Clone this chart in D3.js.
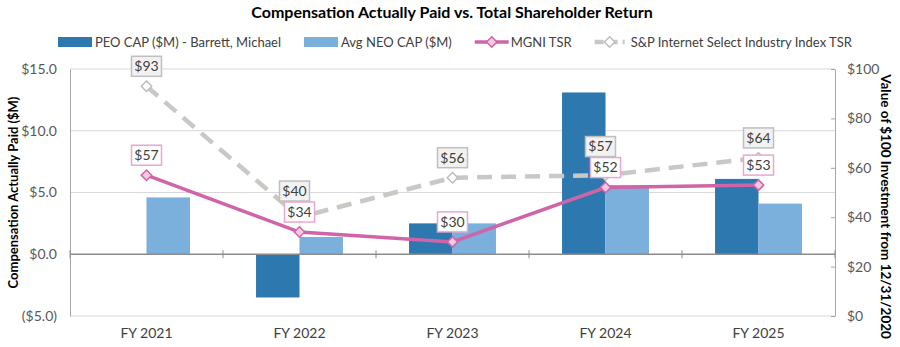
<!DOCTYPE html>
<html>
<head>
<meta charset="utf-8">
<script src="https://cdn.jsdelivr.net/npm/d3@7"></script>
<style>
  body { margin: 0; background: #fff; }
  text { font-family: Lato, "Open Sans", sans-serif; }
</style>
</head>
<body>
<div id="viz-container"></div>
<script>
const years = ['FY 2021', 'FY 2022', 'FY 2023', 'FY 2024', 'FY 2025'];
const peoCap = [0, -3.5, 2.5, 13.1, 6.1];
const neoCap = [4.6, 1.4, 2.5, 5.6, 4.1];
const mgniTsr = [57, 34, 30, 52, 53];
const spTsr = [93, 40, 56, 57, 64];
const leftTicks = [-5, 0, 5, 10, 15];
const rightTicks = [0, 20, 40, 60, 80, 100];
const seriesNames = ['PEO CAP ($M) - Barrett, Michael', 'Avg NEO CAP ($M)', 'MGNI TSR', 'S&P Internet Select Industry Index TSR'];

const width = 900, height = 347,
      margin = {top: 69, bottom: 31, left: 70, right: 65};

const colors = {peo: '#2e78b0', neo: '#7ab0db', mgni: '#cf65a8', mgniFill: '#f3c9e2', sp: '#c8c8c5', spStroke: '#bdbdbd'};

const svg = d3.select('#viz-container')
  .append('svg')
    .attr('width', width)
    .attr('height', height);

const x = d3.scaleBand()
  .domain(years)
  .range([margin.left, width - margin.right]);

const x1 = d3.scaleBand()
  .domain(['peo', 'neo'])
  .range([0, x.bandwidth()])
  .paddingOuter(0.76);

const yL = d3.scaleLinear().domain([-5, 15]).range([height - margin.bottom, margin.top]);
const yR = d3.scaleLinear().domain([0, 100]).range([height - margin.bottom, margin.top]);

const fmtLeft = v => v < 0 ? '($' + Math.abs(v).toFixed(1) + ')' : '$' + v.toFixed(1);

// gridlines
svg.append('g')
  .selectAll('line')
  .data(leftTicks.filter(d => d !== 0))
  .enter().append('line')
    .attr('x1', margin.left).attr('x2', width - margin.right)
    .attr('y1', d => yL(d)).attr('y2', d => yL(d))
    .attr('stroke', '#d9d9d9').attr('stroke-width', 1);

// left axis
const gL = svg.append('g')
  .attr('transform', 'translate(' + margin.left + ',0)')
  .call(d3.axisLeft(yL).tickValues(leftTicks).tickFormat(fmtLeft).tickSize(0).tickPadding(13));
gL.select('.domain').attr('stroke', '#a6a6a6');
gL.selectAll('text').attr('font-size', 14).attr('fill', '#595959');

// right axis
const gR = svg.append('g')
  .attr('transform', 'translate(' + (width - margin.right) + ',0)')
  .call(d3.axisRight(yR).tickValues(rightTicks).tickFormat(d => '$' + d).tickSizeInner(-4).tickSizeOuter(0).tickPadding(12));
gR.select('.domain').attr('stroke', '#a6a6a6');
gR.selectAll('line').attr('stroke', '#a6a6a6');
gR.selectAll('text').attr('font-size', 14).attr('fill', '#595959');

// bars
const barData = years.map((y, i) => [{s: 'peo', y, v: peoCap[i]}, {s: 'neo', y, v: neoCap[i]}]).flat();
svg.append('g')
  .selectAll('rect')
  .data(barData)
  .enter().append('rect')
    .attr('x', d => x(d.y) + x1(d.s))
    .attr('width', x1.bandwidth())
    .attr('y', d => yL(Math.max(0, d.v)))
    .attr('height', d => Math.abs(yL(d.v) - yL(0)))
    .attr('fill', d => colors[d.s]);

// category axis at zero
const gX = svg.append('g')
  .attr('transform', 'translate(0,' + yL(0) + ')');
gX.append('line')
  .attr('x1', margin.left).attr('x2', width - margin.right)
  .attr('stroke', '#8c8c8c').attr('stroke-width', 1.5);
gX.selectAll('.tk')
  .data(d3.range(years.length + 1))
  .enter().append('line')
    .attr('x1', i => margin.left + i * x.step()).attr('x2', i => margin.left + i * x.step())
    .attr('y1', -4).attr('y2', 4)
    .attr('stroke', '#8c8c8c');
svg.append('g')
  .selectAll('text')
  .data(years)
  .enter().append('text')
    .attr('x', d => x(d) + x.bandwidth() / 2)
    .attr('y', height - 9)
    .attr('text-anchor', 'middle')
    .attr('font-size', 14)
    .attr('fill', '#404040')
    .text(d => d);

// lines
const cx = i => x(years[i]) + x.bandwidth() / 2;
const line = d3.line().x((d, i) => cx(i)).y(d => yR(d));

svg.append('path')
  .datum(spTsr)
  .attr('d', line)
  .attr('fill', 'none')
  .attr('stroke', colors.sp)
  .attr('stroke-width', 4.5)
  .attr('stroke-dasharray', '15,9');

svg.append('path')
  .datum(mgniTsr)
  .attr('d', line)
  .attr('fill', 'none')
  .attr('stroke', colors.mgni)
  .attr('stroke-width', 3.5);

const diamond = d3.symbol().type(d3.symbolDiamond2).size(70);

svg.append('g').selectAll('path')
  .data(spTsr)
  .enter().append('path')
    .attr('d', diamond)
    .attr('transform', (d, i) => 'translate(' + cx(i) + ',' + yR(d) + ')')
    .attr('fill', '#fff').attr('stroke', colors.spStroke).attr('stroke-width', 1.5);

svg.append('g').selectAll('path')
  .data(mgniTsr)
  .enter().append('path')
    .attr('d', diamond)
    .attr('transform', (d, i) => 'translate(' + cx(i) + ',' + yR(d) + ')')
    .attr('fill', colors.mgniFill).attr('stroke', colors.mgni).attr('stroke-width', 1.5);

// data labels: MGNI above point, S&P above point, pushed up if they collide
const boxH = 20;
const labels = [];
mgniTsr.forEach((v, i) => labels.push({v, x: cx(i), y: yR(v) - 20, fill: '#fff', stroke: '#e9a8cf'}));
spTsr.forEach((v, i) => {
  let ly = yR(v) - 20, lx = cx(i);
  const m = yR(mgniTsr[i]) - 20;
  if (Math.abs(ly - m) < boxH + 2) { ly = m - boxH - 1; lx -= 5; }
  labels.push({v, x: lx, y: ly, fill: '#f2f2f2', stroke: '#bfbfbf'});
});

const lab = svg.append('g').selectAll('g')
  .data(labels)
  .enter().append('g')
    .attr('transform', d => 'translate(' + d.x + ',' + d.y + ')');
lab.append('rect')
  .attr('x', -15).attr('y', -boxH / 2)
  .attr('width', 30).attr('height', boxH)
  .attr('fill', d => d.fill).attr('stroke', d => d.stroke).attr('stroke-width', 1.5);
lab.append('text')
  .attr('text-anchor', 'middle')
  .attr('dy', '0.35em')
  .attr('font-size', 14)
  .attr('fill', '#404040')
  .text(d => '$' + d.v);

// title
svg.append('text')
  .attr('x', 452).attr('y', 18)
  .attr('text-anchor', 'middle')
  .attr('font-size', 16).attr('font-weight', 'bold')
  .attr('fill', '#000')
  .text('Compensation Actually Paid vs. Total Shareholder Return');

// axis titles
const plotMid = (yL(15) + yL(-5)) / 2;
svg.append('text')
  .attr('transform', 'translate(18,' + plotMid + ') rotate(-90)')
  .attr('text-anchor', 'middle')
  .attr('font-size', 13).attr('font-weight', 'bold').attr('fill', '#000')
  .text('Compensation Actually Paid ($M)');
svg.append('text')
  .attr('transform', 'translate(881,' + (plotMid + 14) + ') rotate(90)')
  .attr('text-anchor', 'middle')
  .attr('font-size', 13.5).attr('font-weight', 'bold').attr('fill', '#000')
  .text('Value of $100 Investment from 12/31/2020');

// legend
const legY = 42;
const leg = svg.append('g');
let lx = 58;
seriesNames.forEach((name, i) => {
  const g = leg.append('g').attr('transform', 'translate(' + lx + ',' + legY + ')');
  if (i < 2) {
    g.append('rect').attr('x', 0).attr('y', -5).attr('width', 34).attr('height', 10)
      .attr('fill', i === 0 ? colors.peo : colors.neo);
  } else if (i === 2) {
    g.append('line').attr('x1', 0).attr('x2', 34).attr('stroke', colors.mgni).attr('stroke-width', 3.5);
    g.append('path').attr('d', diamond).attr('transform', 'translate(17,0)')
      .attr('fill', colors.mgniFill).attr('stroke', colors.mgni).attr('stroke-width', 1.5);
  } else {
    g.append('line').attr('x1', 0).attr('x2', 30).attr('stroke', colors.sp).attr('stroke-width', 4.5)
      .attr('stroke-dasharray', '9,5');
    g.append('path').attr('d', diamond).attr('transform', 'translate(15,0)')
      .attr('fill', '#fff').attr('stroke', colors.spStroke).attr('stroke-width', 1.5);
  }
  const t = g.append('text').attr('x', i < 2 ? 37 : 36).attr('dy', '0.35em')
    .attr('font-size', 13).attr('fill', '#404040').text(name);
  lx += (i < 2 ? 37 : 36) + t.node().getComputedTextLength() + 23;
});
</script>
</body>
</html>
